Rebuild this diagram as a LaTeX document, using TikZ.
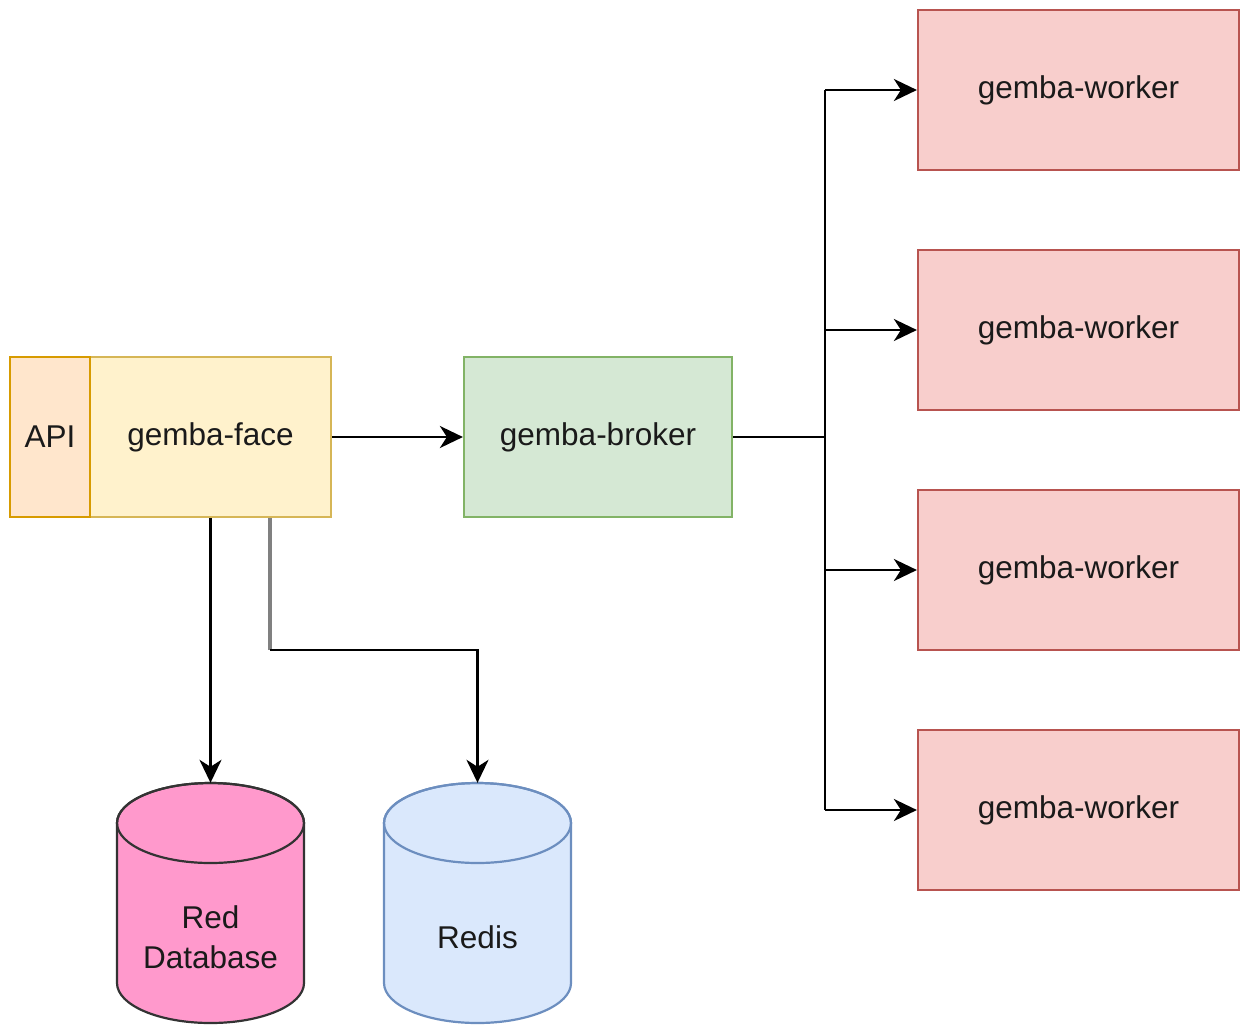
\documentclass[tikz,border=0pt]{standalone}
\usepackage{fontspec}
\setmainfont{Liberation Sans}
\usetikzlibrary{arrows.meta}
\definecolor{apifill}{HTML}{FFE6CC}
\definecolor{apiline}{HTML}{D79B00}
\definecolor{facefill}{HTML}{FFF2CC}
\definecolor{faceline}{HTML}{D6B656}
\definecolor{brokerfill}{HTML}{D5E8D4}
\definecolor{brokerline}{HTML}{82B366}
\definecolor{workerfill}{HTML}{F8CECC}
\definecolor{workerline}{HTML}{B85450}
\definecolor{dbfill}{HTML}{FF99CC}
\definecolor{dbline}{HTML}{333333}
\definecolor{redisfill}{HTML}{DAE8FC}
\definecolor{redisline}{HTML}{6C8EBF}
\definecolor{txt}{HTML}{1A1A1A}
\begin{document}
\begin{tikzpicture}[x=1pt,y=-1pt,
  box/.style={rectangle, line width=2.2pt, inner sep=0pt, font=\fontsize{31.5}{37}\selectfont, text=txt},
  apibox/.style={box, fill=apifill, draw=apiline, minimum width=80pt, minimum height=160pt},
  facebox/.style={box, fill=facefill, draw=faceline, minimum width=241pt, minimum height=160pt},
  brokerbox/.style={box, fill=brokerfill, draw=brokerline, minimum width=268pt, minimum height=160pt},
  workerbox/.style={box, fill=workerfill, draw=workerline, minimum width=321pt, minimum height=160pt},
  cylarea/.style={rectangle, inner sep=0pt, minimum width=187pt, minimum height=240pt},
  cyltext/.style={align=center, font=\fontsize{31.5}{40}\selectfont, text=txt, inner sep=0pt},
  conn/.style={line width=2.5pt, draw=black, -{Stealth[length=23pt,width=22pt,inset=7pt]}},
  plain/.style={line width=2.5pt, draw=black},
]
\useasboundingbox (0,0) rectangle (1246,1026);

\node[facebox] (face) at (210.5,437) {gemba-face};
\node[apibox] (api) at (50,437) {API};
\node[brokerbox] (broker) at (598,437) {gemba-broker};
\node[workerbox] (w1) at (1078.5,90) {gemba-worker};
\node[workerbox] (w2) at (1078.5,330) {gemba-worker};
\node[workerbox] (w3) at (1078.5,570) {gemba-worker};
\node[workerbox] (w4) at (1078.5,810) {gemba-worker};

% cylinders
\node[cylarea] (db) at (210.5,903) {};
\node[cylarea] (redis) at (477.5,903) {};
\filldraw[fill=dbfill, draw=dbline, line width=2.2pt]
  (117,823) -- (117,983) arc[start angle=180, end angle=0, x radius=93.5, y radius=40]
  -- (304,823) arc[start angle=0, end angle=-180, x radius=93.5, y radius=40] -- cycle;
\draw[dbline, line width=2.2pt] (210.5,823) ellipse[x radius=93.5, y radius=40];
\filldraw[fill=redisfill, draw=redisline, line width=2.2pt]
  (384,823) -- (384,983) arc[start angle=180, end angle=0, x radius=93.5, y radius=40]
  -- (571,823) arc[start angle=0, end angle=-180, x radius=93.5, y radius=40] -- cycle;
\draw[redisline, line width=2.2pt] (477.5,823) ellipse[x radius=93.5, y radius=40];
\node[cyltext] (dbl) at (210.5,937) {Red\\Database};
\node[cyltext] (redisl) at (477.5,937) {Redis};

% connectors
\coordinate (trunk) at (825,437);
\draw[conn] (face.east) -- (broker.west);
\draw[plain] (broker.east) -- (trunk);
\draw[plain] (825,90) -- (825,810);
\draw[conn] (trunk |- w1.west) -- (w1.west);
\draw[conn] (trunk |- w2.west) -- (w2.west);
\draw[conn] (trunk |- w3.west) -- (w3.west);
\draw[conn] (trunk |- w4.west) -- (w4.west);

\draw[conn] (face.south) -- (db.north);
\coordinate (bend) at (270,650);
\draw[line width=3.5pt, draw=gray] (face.south -| bend) -- (bend);
\draw[conn] (bend) -- (bend -| redis.north) -- (redis.north);
\end{tikzpicture}
\end{document}
